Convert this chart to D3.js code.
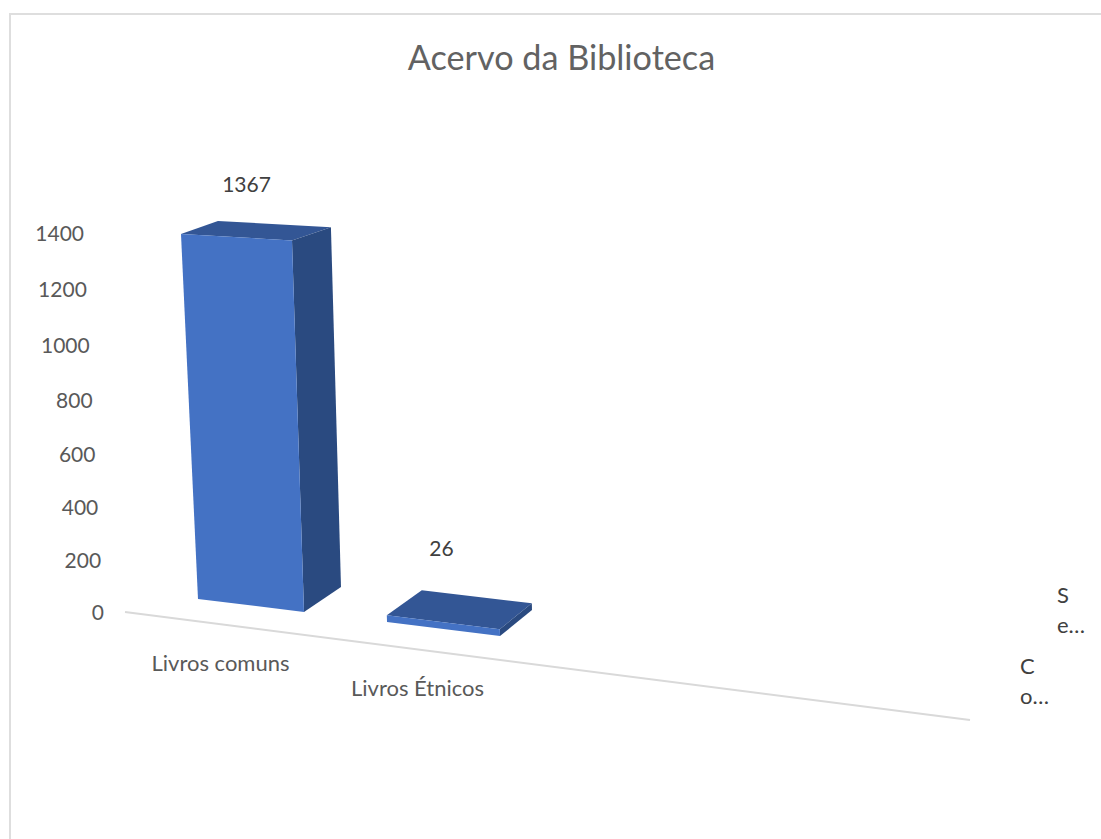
<!DOCTYPE html>
<html lang="pt">
<head>
<meta charset="utf-8">
<title>Acervo da Biblioteca</title>
<script src="https://cdn.jsdelivr.net/npm/d3@7/dist/d3.min.js"></script>
<style>
  html, body { margin: 0; padding: 0; background: #fff; }
  svg { display: block; font-family: Lato, "Open Sans", sans-serif; }
</style>
</head>
<body>
<svg id="chart" width="1101" height="839"></svg>
<script>
// Chart content
const chartTitle = "Acervo da Biblioteca";
const categories = ["Livros comuns", "Livros Étnicos"];
const values = [1367, 26];
const yTicks = [0, 200, 400, 600, 800, 1000, 1200, 1400];
const seriesLabel = ["S", "e…"];
const columnLabel = ["C", "o…"];

// Screen rows of the value ticks: the receding 3D wall spaces them unevenly
const yTickRows = [612, 560, 507, 454, 400, 345, 289, 233];

const svg = d3.select("#chart");

// Chart-area frame
svg.append("path")
  .attr("d", "M10,839V14H1101")
  .attr("fill", "none")
  .attr("stroke", "#dedede")
  .attr("stroke-width", 2);

svg.append("text")
  .attr("x", 561.5).attr("y", 70)
  .attr("text-anchor", "middle")
  .attr("font-size", 34.2)
  .attr("fill", "#626262")
  .text(chartTitle);

const y = d3.scaleLinear().domain(yTicks).range(yTickRows);

// Value labels lean with the wall: their right edge drifts left as the value rises
const tickRightEdge = d3.scaleLinear().domain([0, 1400]).range([104, 84]);

const yAxis = d3.axisLeft(y).tickValues(yTicks).tickSize(0).tickPadding(0).tickFormat(d3.format("d"));
svg.append("g")
  .attr("transform", "translate(0,1)")
  .call(yAxis)
  .call(g => g.select(".domain").remove())
  .call(g => g.selectAll(".tick text")
    .attr("x", d => tickRightEdge(d))
    .attr("font-family", "Lato, 'Open Sans', sans-serif")
    .attr("font-size", 21)
    .attr("fill", "#595959"));

// Floor line of the category axis
const floorRow = d3.scaleLinear().domain([125, 970]).range([612, 720]);
svg.append("line")
  .attr("x1", 125).attr("y1", floorRow(125))
  .attr("x2", 970).attr("y2", floorRow(970))
  .attr("stroke", "#d9d9d9")
  .attr("stroke-width", 2);

// Position along the category axis: bar i spans i - halfWidth .. i + halfWidth.
const halfWidth = 0.28;
const edges = [-halfWidth, halfWidth, 1 - halfWidth, 1 + halfWidth];
const frontX = d3.scaleLinear().domain(edges).range([198, 304, 387, 500]);
const frontY = d3.scaleLinear().domain(edges).range([599, 612, 622, 636]);
const backX  = d3.scaleLinear().domain(edges).range([230, 341, 422, 532]);
const backY  = d3.scaleLinear().domain(edges).range([576, 587, 597, 610]);

// Perspective corrections for vertical edges: how much a unit of value lifts
// a corner relative to the axis, and how far it leans to the left as it rises.
const liftFront = d3.scaleLinear().domain(edges).range([0.987, 1.005, 1, 1]);
const liftBack  = d3.scaleLinear().domain(edges).range([0.96, 0.973, 1, 1]);
const leanFront = d3.scaleLinear().domain(edges).range([0.0466, 0.0323, 0.03, 0.03]);
const leanBack  = d3.scaleLinear().domain(edges).range([0.034, 0.028, 0.028, 0.028]);

// Projects a bar corner: u along the categories, back selects the rear edge, v the value.
function corner(u, back, v) {
  const lift = (y(0) - y(v)) * (back ? liftBack(u) : liftFront(u));
  const lean = back ? leanBack(u) : leanFront(u);
  const x0 = back ? backX(u) : frontX(u);
  const y0 = back ? backY(u) : frontY(u);
  return [x0 - lift * lean, y0 - lift];
}

const polygon = pts => "M" + pts.map(p => p.join(",")).join("L") + "Z";

const bars = svg.append("g").selectAll("g")
  .data(values.map((value, i) => ({ value, i })))
  .join("g");

// Top face
bars.append("path")
  .attr("fill", "#335695")
  .attr("d", d => {
    const l = d.i - halfWidth, r = d.i + halfWidth;
    return polygon([corner(l, false, d.value), corner(l, true, d.value), corner(r, true, d.value), corner(r, false, d.value)]);
  });

// Right side face
bars.append("path")
  .attr("fill", "#2a4a80")
  .attr("d", d => {
    const r = d.i + halfWidth;
    return polygon([corner(r, false, d.value), corner(r, true, d.value), corner(r, true, 0), corner(r, false, 0)]);
  });

// Front face
bars.append("path")
  .attr("fill", "#4472c4")
  .attr("d", d => {
    const l = d.i - halfWidth, r = d.i + halfWidth;
    return polygon([corner(l, false, d.value), corner(r, false, d.value), corner(r, false, 0), corner(l, false, 0)]);
  });

// Data labels
const valueLabelPos = [[246.5, 192], [441.5, 556]];
svg.append("g").selectAll("text")
  .data(values)
  .join("text")
  .attr("x", (d, i) => valueLabelPos[i][0])
  .attr("y", (d, i) => valueLabelPos[i][1])
  .attr("text-anchor", "middle")
  .attr("font-size", 21)
  .attr("fill", "#404040")
  .text(d => d);

// Category labels
const categoryLabelPos = [[220.5, 671], [417.5, 696]];
svg.append("g").selectAll("text")
  .data(categories)
  .join("text")
  .attr("x", (d, i) => categoryLabelPos[i][0])
  .attr("y", (d, i) => categoryLabelPos[i][1])
  .attr("text-anchor", "middle")
  .attr("font-size", 22)
  .attr("fill", "#595959")
  .text(d => d);

// Truncated depth-axis labels, wrapped over two lines
function wrapped(lines, x, yTop) {
  svg.append("g").selectAll("text")
    .data(lines)
    .join("text")
    .attr("x", x)
    .attr("y", (d, i) => yTop + i * 30)
    .attr("font-size", 22)
    .attr("fill", "#404040")
    .text(d => d);
}
wrapped(seriesLabel, 1057, 603);
wrapped(columnLabel, 1020, 674);
</script>
</body>
</html>
